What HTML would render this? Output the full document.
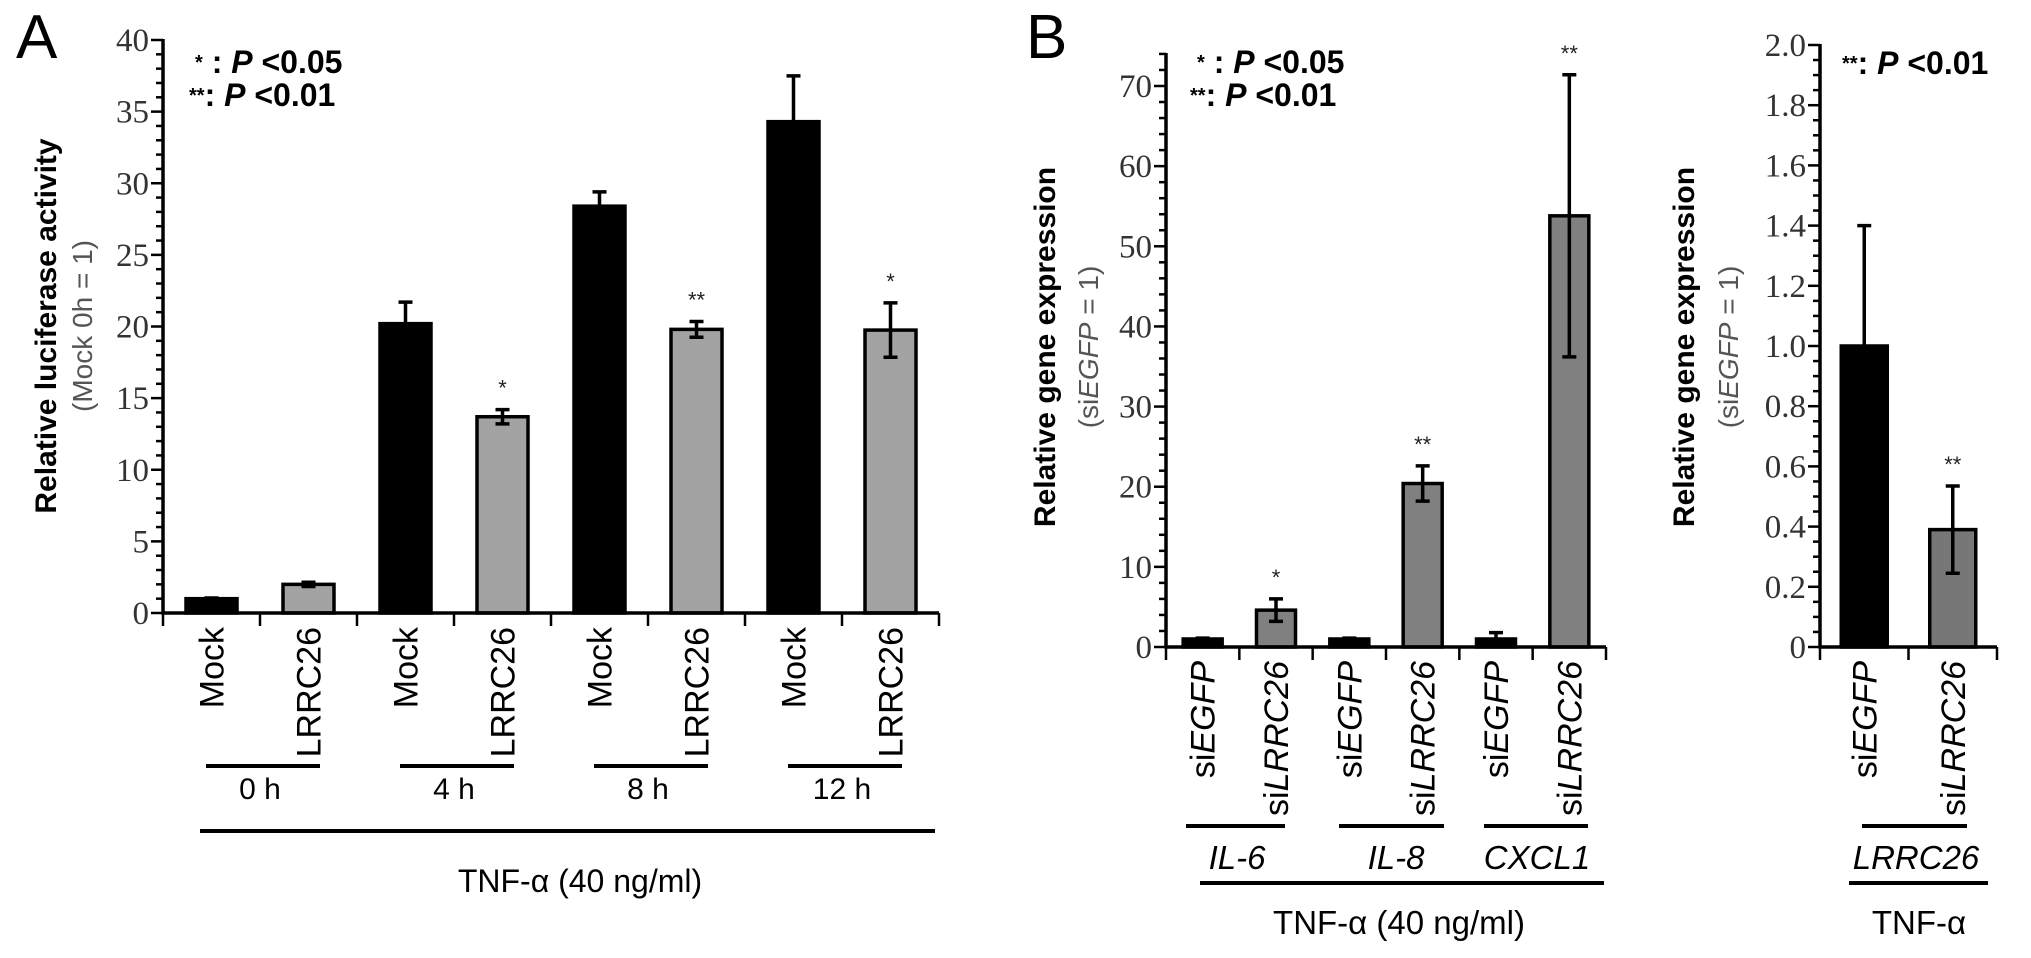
<!DOCTYPE html>
<html><head><meta charset="utf-8"><style>
html,body{margin:0;padding:0;background:#fff;}
svg{display:block;font-family:"Liberation Sans",Arial,sans-serif;}
.tick{font-family:"Liberation Serif",serif;font-size:33px;fill:#333;}
</style></head><body>
<svg id="fig" width="2031" height="958" viewBox="0 0 2031 958" xmlns="http://www.w3.org/2000/svg">
<g id="static">
  <text x="16" y="58" font-size="62">A</text>
  <text x="1026" y="58" font-size="62">B</text>
  <text x="195" y="73" font-size="32" font-weight="bold"><tspan font-size="20" dy="-4">*</tspan><tspan dy="4"> : </tspan><tspan font-style="italic">P</tspan> &lt;0.05</text>
  <text x="189" y="106" font-size="32" font-weight="bold"><tspan font-size="20" dy="-4">**</tspan><tspan dy="4">: </tspan><tspan font-style="italic">P</tspan> &lt;0.01</text>
  <text x="1197" y="73" font-size="32" font-weight="bold"><tspan font-size="20" dy="-4">*</tspan><tspan dy="4"> : </tspan><tspan font-style="italic">P</tspan> &lt;0.05</text>
  <text x="1190" y="106" font-size="32" font-weight="bold"><tspan font-size="20" dy="-4">**</tspan><tspan dy="4">: </tspan><tspan font-style="italic">P</tspan> &lt;0.01</text>
  <text x="1842" y="74" font-size="32" font-weight="bold"><tspan font-size="20" dy="-4">**</tspan><tspan dy="4">: </tspan><tspan font-style="italic">P</tspan> &lt;0.01</text>
  <text transform="translate(56,326) rotate(-90)" text-anchor="middle" font-size="30" font-weight="bold">Relative luciferase activity</text>
  <text transform="translate(92,326) rotate(-90)" text-anchor="middle" font-size="28" fill="#555">(Mock 0h = 1)</text>
  <text transform="translate(1055,347) rotate(-90)" text-anchor="middle" font-size="30" font-weight="bold">Relative gene expression</text>
  <text transform="translate(1098,347) rotate(-90)" text-anchor="middle" font-size="28" fill="#555">(si<tspan font-style="italic">EGFP</tspan> = 1)</text>
  <text transform="translate(1694,347) rotate(-90)" text-anchor="middle" font-size="30" font-weight="bold">Relative gene expression</text>
  <text transform="translate(1738,347) rotate(-90)" text-anchor="middle" font-size="28" fill="#555">(si<tspan font-style="italic">EGFP</tspan> = 1)</text>
  <line x1="206" y1="766" x2="320" y2="766" stroke="#000" stroke-width="4"/>
  <line x1="400" y1="766" x2="514" y2="766" stroke="#000" stroke-width="4"/>
  <line x1="594" y1="766" x2="708" y2="766" stroke="#000" stroke-width="4"/>
  <line x1="788" y1="766" x2="902" y2="766" stroke="#000" stroke-width="4"/>
  <text x="260" y="799" text-anchor="middle" font-size="30">0 h</text>
  <text x="454" y="799" text-anchor="middle" font-size="30">4 h</text>
  <text x="648" y="799" text-anchor="middle" font-size="30">8 h</text>
  <text x="842" y="799" text-anchor="middle" font-size="30">12 h</text>
  <line x1="200" y1="831" x2="935" y2="831" stroke="#000" stroke-width="4"/>
  <text x="580" y="892" text-anchor="middle" font-size="32">TNF-α (40 ng/ml)</text>
  <line x1="1186" y1="826" x2="1285" y2="826" stroke="#000" stroke-width="4"/>
  <line x1="1339" y1="826" x2="1444" y2="826" stroke="#000" stroke-width="4"/>
  <line x1="1484" y1="826" x2="1588" y2="826" stroke="#000" stroke-width="4"/>
  <text x="1237" y="869" text-anchor="middle" font-size="33" font-style="italic">IL-6</text>
  <text x="1396" y="869" text-anchor="middle" font-size="33" font-style="italic">IL-8</text>
  <text x="1537" y="869" text-anchor="middle" font-size="33" font-style="italic">CXCL1</text>
  <line x1="1200" y1="883" x2="1604" y2="883" stroke="#000" stroke-width="4"/>
  <text x="1399" y="934" text-anchor="middle" font-size="33">TNF-α (40 ng/ml)</text>
  <line x1="1862" y1="826" x2="1967" y2="826" stroke="#000" stroke-width="4"/>
  <text x="1916" y="869" text-anchor="middle" font-size="33" font-style="italic">LRRC26</text>
  <line x1="1849" y1="883" x2="1988" y2="883" stroke="#000" stroke-width="4"/>
  <text x="1919" y="934" text-anchor="middle" font-size="33">TNF-α</text>
</g>
</svg>
<script>
// Panel A data
const aCategories = ['Mock','LRRC26','Mock','LRRC26','Mock','LRRC26','Mock','LRRC26'];
const aValues = [1.0, 2.0, 20.2, 13.7, 28.4, 19.8, 34.3, 19.75];
const aErrors = [0.05, 0.15, 1.5, 0.5, 1.0, 0.55, 3.2, 1.9];
const aSig = ['', '', '', '*', '', '**', '', '*'];
const aTicks = [0, 5, 10, 15, 20, 25, 30, 35, 40];
// Panel B1 data
const b1Categories = ['EGFP','LRRC26','EGFP','LRRC26','EGFP','LRRC26'];
const b1Values = [1.0, 4.6, 1.0, 20.4, 1.0, 53.8];
const b1Errors = [0.1, 1.4, 0.1, 2.2, 0.8, 17.6];
const b1Sig = ['', '*', '', '**', '', '**'];
const b1Ticks = [0, 10, 20, 30, 40, 50, 60, 70];
// Panel B2 data
const b2Categories = ['EGFP','LRRC26'];
const b2Values = [1.0, 0.39];
const b2Errors = [0.40, 0.145];
const b2Sig = ['', '**'];
const b2Ticks = ['0','0.2','0.4','0.6','0.8','1.0','1.2','1.4','1.6','1.8','2.0'];

const NS = 'http://www.w3.org/2000/svg';
const svg = document.getElementById('fig');

function el(tag, attrs, parent) {
  const e = document.createElementNS(NS, tag);
  for (const k in attrs) e.setAttribute(k, attrs[k]);
  (parent || svg).appendChild(e);
  return e;
}

function panel(p) {
  const g = el('g', {});
  
  
  const y = v => p.y0 - v / p.max * (p.y0 - p.yTop);
  const n = p.cats.length;
  const cw = (p.xEnd - p.x0) / n;
  const cx = i => p.x0 + cw * (i + 0.5);
  for (let k = 0; k <= Math.round(p.axisMax / p.minor); k++) {
    const v = k * p.minor;
    const major = Math.abs(v / p.major - Math.round(v / p.major)) < 1e-6;
    const t = el('line', {x1: p.x0 - (major ? 12 : 7), x2: p.x0, y1: y(v), y2: y(v), stroke: '#000', 'stroke-width': 2.5}, g);
    
    
  }
  p.ticks.forEach(lbl => {
    const t = el('text', {x: p.x0 - 14, y: y(parseFloat(lbl)) + 11, 'text-anchor': 'end', class: 'tick'}, g);
    t.textContent = lbl;
    
    
  });
  const ya = el('line', {x1: p.x0, x2: p.x0, y1: y(p.axisMax) - 1, y2: p.y0 + 1.5, stroke: '#000', 'stroke-width': 3.5}, g);
  
  
  p.vals.forEach((v, i) => {
    const bx = cx(i) - p.bw / 2;
    const r = el('rect', {x: bx, y: y(v), width: p.bw, height: p.y0 - y(v), fill: i % 2 ? p.gray : '#000', stroke: '#000', 'stroke-width': 3.5}, g);
    
    
    const e = p.errs[i];
    const eb = el('path', {d: 'M' + cx(i) + ' ' + y(v + e) + 'V' + y(Math.max(0, v - e)) + 'M' + (cx(i) - 7) + ' ' + y(v + e) + 'h14M' + (cx(i) - 7) + ' ' + y(Math.max(0, v - e)) + 'h14', stroke: '#000', 'stroke-width': 3.5, fill: 'none'}, g);
    
    
    if (p.sig[i]) {
      const s = el('text', {x: cx(i), y: y(v + e) - 14, 'text-anchor': 'middle', 'font-size': 22, fill: '#222'}, g);
      s.textContent = p.sig[i];
      
      
    }
    const lt = el('text', {transform: 'translate(' + (cx(i) + 12) + ',' + (p.y0 + 14) + ') rotate(-90)', 'text-anchor': 'end', 'font-size': 34}, g);
    if (p.si) {
      const a = el('tspan', {}, lt); a.textContent = 'si';
      const b = el('tspan', {'font-style': 'italic'}, lt); b.textContent = p.cats[i];
    } else {
      lt.textContent = p.cats[i];
    }
    
    
  });
  const xa = el('line', {x1: p.x0 - 1.5, x2: p.xEnd, y1: p.y0, y2: p.y0, stroke: '#000', 'stroke-width': 3.5}, g);
  
  
  for (let i = 0; i <= n; i++) {
    const t = el('line', {x1: p.x0 + cw * i, x2: p.x0 + cw * i, y1: p.y0, y2: p.y0 + 13, stroke: '#000', 'stroke-width': 2.5}, g);
    
    
  }
}

panel({name: 'chart-a', cats: aCategories, vals: aValues, errs: aErrors, sig: aSig, ticks: aTicks.map(String),
  x0: 163, xEnd: 939, y0: 613, yTop: 40, max: 40, axisMax: 40, minor: 1, major: 5, bw: 51, gray: '#a3a3a3', si: false});
panel({name: 'chart-b1', cats: b1Categories, vals: b1Values, errs: b1Errors, sig: b1Sig, ticks: b1Ticks.map(String),
  x0: 1166, xEnd: 1606, y0: 647, yTop: 86, max: 70, axisMax: 74, minor: 2, major: 10, bw: 39, gray: '#808080', si: true});
panel({name: 'chart-b2', cats: b2Categories, vals: b2Values, errs: b2Errors, sig: b2Sig, ticks: b2Ticks,
  x0: 1820, xEnd: 1997, y0: 647, yTop: 45, max: 2.0, axisMax: 2.0, minor: 0.05, major: 0.2, bw: 46, gray: '#777777', si: true});
</script>
</body></html>
